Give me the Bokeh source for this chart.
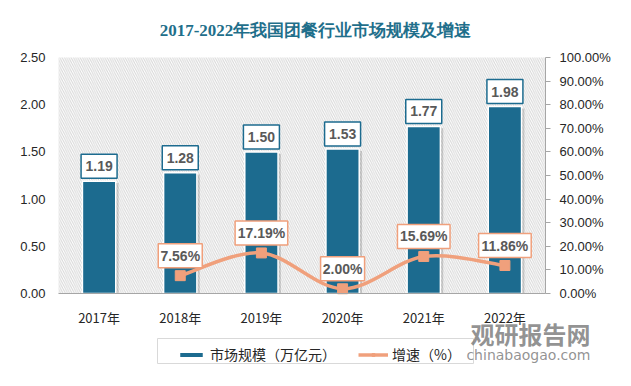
from bokeh.plotting import figure
from bokeh.models import (Range1d, LinearAxis, FixedTicker, PrintfTickFormatter,
                          Label, Legend, LegendItem, BoxAnnotation)
from bokeh.core.properties import value
from bokeh.embed import file_html
from bokeh.resources import INLINE

# ---- data ----
years = ["2017年", "2018年", "2019年", "2020年", "2021年", "2022年"]
market = [1.19, 1.28, 1.50, 1.53, 1.77, 1.98]
growth_years = ["2018年", "2019年", "2020年", "2021年", "2022年"]
growth = [7.56, 17.19, 2.00, 15.69, 11.86]
left_ticks = [0.0, 0.5, 1.0, 1.5, 2.0, 2.5]
right_ticks = [0, 10, 20, 30, 40, 50, 60, 70, 80, 90, 100]
title_text = "2017-2022年我国团餐行业市场规模及增速"
legend_bar = "市场规模（万亿元）"
legend_line = "增速（%）"
watermark_cn = "观研报告网"
watermark_en = "chinabaogao.com"

BLUE = "#1c6b8f"
ORANGE = "#f0a07c"
GREY_TXT = "#595959"
NUM_FONT = "Liberation Sans"
CJK_FONT = "Noto Sans CJK SC"

# ---- layout geometry (pixels) ----
W, H = 631, 386
PL, PR, PT, PB = 58, 545, 57, 293          # plot area inside the canvas
NCAT = len(years)
YMAX = left_ticks[-1]
PMAX = right_ticks[-1]
sx = (PR - PL) / NCAT
sy = (PB - PT) / YMAX
sp = (PB - PT) / PMAX

p = figure(width=W, height=H, output_backend="svg", toolbar_location=None,
           x_range=Range1d(-PL / sx, NCAT + (W - PR) / sx),
           y_range=Range1d(-(H - PB) / sy, YMAX + PT / sy),
           min_border=0, min_border_left=0, min_border_right=0,
           min_border_top=0, min_border_bottom=0)
p.extra_y_ranges = {"pct": Range1d(-(H - PB) / sp, PMAX + PT / sp)}
p.outline_line_color = None
p.grid.visible = False
p.background_fill_color = "white"
p.border_fill_color = "white"

xs = [i + 0.5 for i in range(NCAT)]
gx = [years.index(y) + 0.5 for y in growth_years]

# hatched plot background
p.quad(left=[0], right=[NCAT], bottom=[0], top=[YMAX], fill_color=None,
       line_color=None, hatch_pattern="\\", hatch_color="#cfcfcf",
       hatch_scale=4.5, hatch_weight=1, hatch_alpha=0.85)

# bar shadow + bars
p.vbar(x=[x + 0.035 for x in xs], top=[m - 0.02 for m in market], width=0.41,
       bottom=0, fill_color="#7f7f7f", fill_alpha=0.35, line_color=None)
bars = p.vbar(x=xs, top=market, width=0.41, bottom=0, fill_color=BLUE,
              line_color="white", line_width=1.5)

# bar value labels
off_b = 15 / sy
blab = [f"{m:.2f}" for m in market]
p.rect(x=xs, y=[m + off_b for m in market], width=36, height=24,
       width_units="screen", height_units="screen", fill_color="white",
       line_color=BLUE, line_width=1.5)
p.text(x=xs, y=[m + off_b for m in market], text=blab, text_align="center",
       text_baseline="middle", text_font=value(NUM_FONT), text_font_size="14px",
       text_font_style="bold", text_color=GREY_TXT)

# smooth growth line (Catmull-Rom -> bezier)
pts = list(zip(gx, growth))
x0s, y0s, x1s, y1s, cx0, cy0, cx1, cy1 = [], [], [], [], [], [], [], []
for i in range(len(pts) - 1):
    pa = pts[i - 1] if i > 0 else pts[i]
    pb, pc = pts[i], pts[i + 1]
    pd = pts[i + 2] if i + 2 < len(pts) else pts[i + 1]
    x0s.append(pb[0]); y0s.append(pb[1]); x1s.append(pc[0]); y1s.append(pc[1])
    cx0.append(pb[0] + (pc[0] - pa[0]) / 6); cy0.append(pb[1] + (pc[1] - pa[1]) / 6)
    cx1.append(pc[0] - (pd[0] - pb[0]) / 6); cy1.append(pc[1] - (pd[1] - pb[1]) / 6)
p.bezier(x0=x0s, y0=y0s, x1=x1s, y1=y1s, cx0=cx0, cy0=cy0, cx1=cx1, cy1=cy1,
         line_color=ORANGE, line_width=3.5, y_range_name="pct")
marks = p.scatter(x=gx, y=growth, marker="square", size=10, fill_color=ORANGE,
                  line_color=ORANGE, y_range_name="pct")
legend_line_r = p.line(x=[float("nan")], y=[float("nan")], line_color=ORANGE,
                       line_width=3.5, y_range_name="pct")

# growth labels
off_g = 20 / sp
glab = [f"{g:.2f}%" for g in growth]
gw = [len(s) * 8.6 + 1 for s in glab]
p.rect(x=gx, y=[g + off_g for g in growth], width=gw, height=24,
       width_units="screen", height_units="screen", fill_color="white",
       line_color=ORANGE, line_width=1.5, y_range_name="pct")
p.text(x=gx, y=[g + off_g for g in growth], text=glab, text_align="center",
       text_baseline="middle", text_font=value(NUM_FONT), text_font_size="14px",
       text_font_style="bold", text_color=GREY_TXT, y_range_name="pct")

# axes (drawn at fixed data locations)
xa = p.xaxis[0]
xa.fixed_location = 0
xa.bounds = (0, NCAT)
xa.ticker = FixedTicker(ticks=xs)
xa.major_label_overrides = {x: y for x, y in zip(xs, years)}
xa.axis_line_color = "#a6a6a6"
xa.major_tick_line_color = None
xa.major_tick_out = 0
xa.major_tick_in = 0
xa.minor_tick_line_color = None
xa.major_label_text_font = CJK_FONT
xa.major_label_text_font_size = "13px"
xa.major_label_text_color = "#262626"
xa.major_label_standoff = 14

ya = p.yaxis[0]
ya.fixed_location = 0
ya.bounds = (0, YMAX)
ya.ticker = FixedTicker(ticks=left_ticks)
ya.formatter = PrintfTickFormatter(format="%.2f")
ya.axis_line_color = None
ya.major_tick_line_color = None
ya.major_tick_out = 0
ya.major_tick_in = 0
ya.minor_tick_line_color = None
ya.major_label_text_font = NUM_FONT
ya.major_label_text_font_size = "13px"
ya.major_label_text_color = "#262626"
ya.major_label_standoff = 13

ra = LinearAxis(y_range_name="pct", ticker=FixedTicker(ticks=right_ticks),
                formatter=PrintfTickFormatter(format="%.2f%%"))
ra.fixed_location = NCAT
ra.bounds = (0, PMAX)
ra.axis_line_color = "#a6a6a6"
ra.major_tick_line_color = "#a6a6a6"
ra.major_tick_in = 0
ra.major_tick_out = 5
ra.minor_tick_line_color = None
ra.major_label_text_font = NUM_FONT
ra.major_label_text_font_size = "13px"
ra.major_label_text_color = "#262626"
ra.major_label_standoff = 9
p.add_layout(ra, "right")

# title
p.add_layout(Label(x=315, y=H - 30, x_units="screen", y_units="screen",
                   text=title_text, text_align="center", text_baseline="middle",
                   text_font="Liberation Serif", text_font_size="17px",
                   text_font_style="bold", text_color="#1f6f8b"))

# legend frame + legend
p.add_layout(BoxAnnotation(left=157, right=473, bottom=H - 363, top=H - 338,
                           left_units="screen", right_units="screen",
                           bottom_units="screen", top_units="screen",
                           fill_color="white", fill_alpha=1,
                           line_color="#d9d9d9", line_width=1, line_alpha=1))
legend = Legend(items=[LegendItem(label=legend_bar, renderers=[bars]),
                       LegendItem(label=legend_line, renderers=[legend_line_r, marks])],
                orientation="horizontal", location=(176, H - 364),
                label_text_font=CJK_FONT, label_text_font_size="14px",
                label_text_color="#262626", border_line_color=None,
                background_fill_alpha=0, glyph_width=30, glyph_height=7,
                spacing=22, padding=4, margin=0, label_standoff=4,
                label_height=19)
p.add_layout(legend, "center")

# watermark
p.add_layout(Label(x=590, y=H - 333, x_units="screen", y_units="screen",
                   text=watermark_cn, text_align="right", text_baseline="middle",
                   text_font=CJK_FONT, text_font_size="24px", text_font_style="bold",
                   text_color="#808080", text_alpha=0.85))
p.add_layout(Label(x=590, y=H - 354, x_units="screen", y_units="screen",
                   text=watermark_en, text_align="right", text_baseline="middle",
                   text_font="DejaVu Sans", text_font_size="14px",
                   text_color="#808080", text_alpha=0.85))

open("out.html", "w").write(file_html(p, INLINE))
